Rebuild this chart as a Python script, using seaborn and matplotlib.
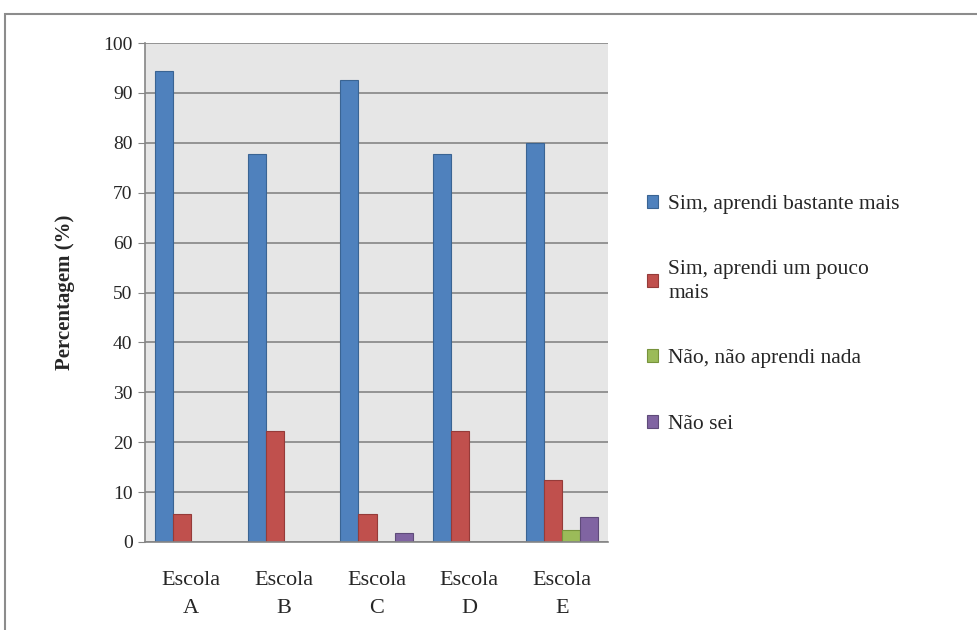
import pandas as pd
import numpy as np
import seaborn as sns
import matplotlib.pyplot as plt
from matplotlib.patches import Rectangle

escolas = ['Escola\nA', 'Escola\nB', 'Escola\nC', 'Escola\nD', 'Escola\nE']
respostas = ['Sim, aprendi bastante mais', 'Sim, aprendi um pouco\nmais',
             'Não, não aprendi nada', 'Não sei']
bastante = [94.4, 77.8, 92.6, 77.8, 80.0]
pouco = [5.6, 22.2, 5.6, 22.2, 12.5]
nada = [0, 0, 0, 0, 2.5]
nao_sei = [0, 0, 1.9, 0, 5.0]
cores = ['#4F81BD', '#C0504D', '#9BBB59', '#8064A2']
bordas = ['#3A6493', '#953B39', '#77933C', '#5F4B7A']

rows = []
for serie, vals in zip(respostas, [bastante, pouco, nada, nao_sei]):
    for e, v in zip(escolas, vals):
        rows.append({'Escola': e, 'Resposta': serie, 'Valor': v})
df = pd.DataFrame(rows)

sns.set_style('white')
plt.rcParams['font.family'] = ['Liberation Serif', 'DejaVu Serif']

fig = plt.figure(figsize=(9.77, 6.3), dpi=100)
ax = fig.add_axes([145/977, 88/630, 463/977, 499/630])
ax.set_facecolor('#E6E6E6')

sns.barplot(data=df, x='Escola', y='Valor', hue='Resposta', palette=cores,
            saturation=1, width=0.78, ax=ax, legend=False, linewidth=0.8)

# darker outlines per series
for cont, edge in zip(ax.containers, bordas):
    for bar in cont:
        bar.set_edgecolor(edge)

ax.set_ylim(0, 100)
ax.set_yticks(np.arange(0, 101, 10))
ax.yaxis.grid(True, color='#858585', linewidth=1.2)
ax.set_axisbelow(True)
ax.set_xlabel('')
ax.set_ylabel('Percentagem (%)', fontsize=15, fontweight='bold', labelpad=20)
ax.tick_params(axis='y', labelsize=14, length=5, color='#858585', left=True, pad=4)
ax.tick_params(axis='x', labelsize=16, length=0, pad=21)
for lab in ax.get_xticklabels():
    lab.set_linespacing(1.6)
for s in ['top', 'right']:
    ax.spines[s].set_visible(False)
for s in ['left', 'bottom']:
    ax.spines[s].set_color('#858585')
    ax.spines[s].set_linewidth(1.2)

handles = [Rectangle((0, 0), 1, 1, facecolor=c, edgecolor=b, linewidth=0.8)
           for c, b in zip(cores, bordas)]
leg = fig.legend(handles, respostas, loc='upper left', bbox_to_anchor=(638/977, 1 - 186/630),
                 frameon=False, fontsize=15.5, handlelength=0.55, handleheight=0.55,
                 handletextpad=0.45, labelspacing=2.15, borderaxespad=0)
for t in leg.get_texts():
    t.set_linespacing(1.35)

# outer chart frame
fig.patches.append(Rectangle((5/977, -0.05), 1.1, 1 - 14/630 + 0.05,
                             transform=fig.transFigure, fill=False,
                             edgecolor='#8C8C8C', linewidth=1.5))

fig.savefig('out.png', dpi=100)
